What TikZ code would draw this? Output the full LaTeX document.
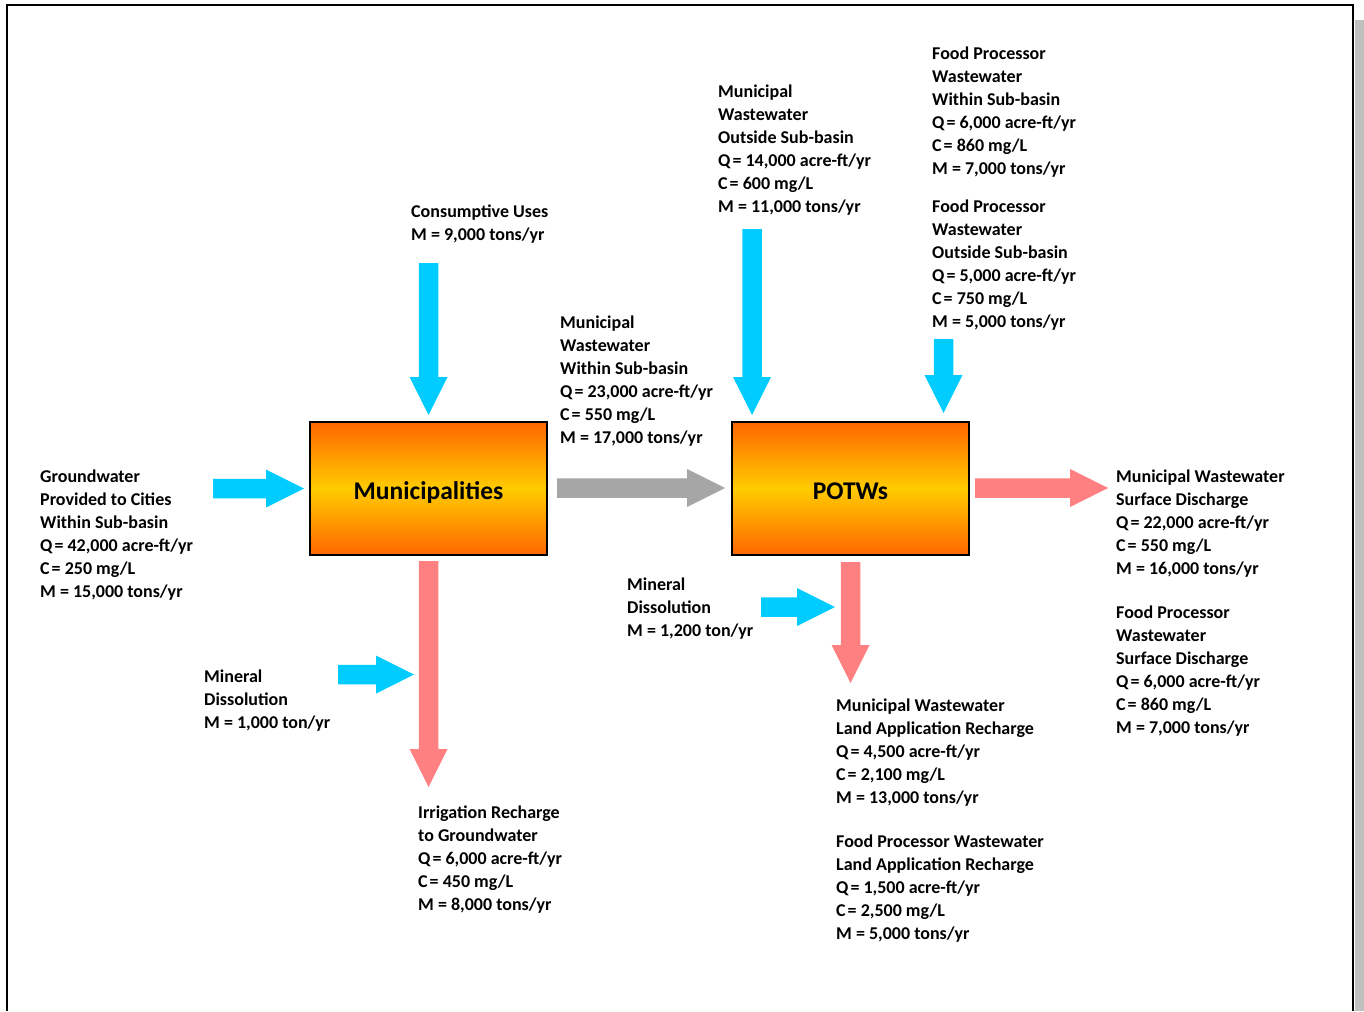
\documentclass[tikz,border=0pt]{standalone}
\usepackage{fontspec}
\setmainfont{Carlito}
\usetikzlibrary{calc}

\definecolor{inflow}{HTML}{00CCFF}
\definecolor{outflow}{HTML}{FF8080}
\definecolor{transfer}{HTML}{A6A6A6}
\definecolor{boxedge}{HTML}{FF6600}
\definecolor{boxmid}{HTML}{FFCC00}
\definecolor{shadowgray}{HTML}{C0C0C0}

% block arrow from tail coordinate #2 to tip coordinate #3, filled with #1
\newcommand\flowarrow[3]{%
  \coordinate (hb) at ($(#3)!38pt!(#2)$);
  \fill[#1] ($(#2)!9.75pt!90:(#3)$) -- ($(hb)!9.75pt!90:(#3)$) --
    ($(hb)!19pt!90:(#3)$) -- (#3) -- ($(hb)!19pt!-90:(#3)$) --
    ($(hb)!9.75pt!-90:(#3)$) -- ($(#2)!9.75pt!-90:(#3)$) -- cycle;
}

\tikzset{
  label/.style={anchor=north west, inner sep=0pt, align=left,
    font=\bfseries\fontsize{18}{23}\selectfont},
  sector/.style={draw=black, line width=2.4pt, minimum width=237pt,
    minimum height=133pt, inner sep=0pt, text height=21pt, text depth=0pt,
    top color=boxedge, bottom color=boxedge, middle color=boxmid,
    font=\bfseries\fontsize{25.5}{30}\selectfont},
}

\begin{document}
\begin{tikzpicture}[x=1pt,y=-1pt]
\useasboundingbox (0,0) rectangle (1364,1011);

% page frame and its shadow
\fill[shadowgray] (1355,20) rectangle (1364,1011);
\draw[line width=2pt] (7,1011) -- (7,5) -- (1353,5) -- (1353,1011);

% the two sectors
\node[sector] (muni) at (428.5,488.5) {Municipalities};
\node[sector] (potw) at (850.5,488.5) {POTWs};

% arrow end points
\coordinate (cuT) at (428.5,263);  \coordinate (cuH) at (428.5,415);
\coordinate (gwT) at (213,488.5);  \coordinate (gwH) at (304,488.5);
\coordinate (mwT) at (557,488);    \coordinate (mwH) at (725,488);
\coordinate (moT) at (752,229);    \coordinate (moH) at (752,415);
\coordinate (foT) at (943.5,339);  \coordinate (foH) at (943.5,413);
\coordinate (sdT) at (975,488);    \coordinate (sdH) at (1108,488);
\coordinate (irT) at (428.5,561);  \coordinate (irH) at (428.5,787);
\coordinate (m1T) at (338,674.5);  \coordinate (m1H) at (414,674.5);
\coordinate (m2T) at (761,607);    \coordinate (m2H) at (835,607);
\coordinate (laT) at (850.5,562);  \coordinate (laH) at (850.5,683);

\flowarrow{inflow}{cuT}{cuH}
\flowarrow{inflow}{gwT}{gwH}
\flowarrow{transfer}{mwT}{mwH}
\flowarrow{inflow}{moT}{moH}
\flowarrow{inflow}{foT}{foH}
\flowarrow{outflow}{sdT}{sdH}
\flowarrow{outflow}{irT}{irH}
\flowarrow{inflow}{m1T}{m1H}
\flowarrow{inflow}{m2T}{m2H}
\flowarrow{outflow}{laT}{laH}

% flow labels
\node[label] (cu) at (411,201) {\strut Consumptive Uses\\M = 9,000 tons/yr};
\node[label] (mo) at (718,81) {\strut Municipal\\Wastewater\\Outside Sub-basin\\Q\kern2pt= 14,000 acre-ft/yr\\C\kern2pt= 600 mg/L\\M = 11,000 tons/yr};
\node[label] (fw) at (932,43) {\strut Food Processor\\Wastewater\\Within Sub-basin\\Q\kern2pt= 6,000 acre-ft/yr\\C\kern2pt= 860 mg/L\\M = 7,000 tons/yr};
\node[label] (fo) at (932,196) {\strut Food Processor\\Wastewater\\Outside Sub-basin\\Q\kern2pt= 5,000 acre-ft/yr\\C\kern2pt= 750 mg/L\\M = 5,000 tons/yr};
\node[label] (mw) at (560,312) {\strut Municipal\\Wastewater\\Within Sub-basin\\Q\kern2pt= 23,000 acre-ft/yr\\C\kern2pt= 550 mg/L\\M = 17,000 tons/yr};
\node[label] (gw) at (40,466) {\strut Groundwater\\Provided to Cities\\Within Sub-basin\\Q\kern2pt= 42,000 acre-ft/yr\\C\kern2pt= 250 mg/L\\M = 15,000 tons/yr};
\node[label] (sd) at (1116,466) {\strut Municipal Wastewater\\Surface Discharge\\Q\kern2pt= 22,000 acre-ft/yr\\C\kern2pt= 550 mg/L\\M = 16,000 tons/yr};
\node[label] (fs) at (1116,602) {\strut Food Processor\\Wastewater\\Surface Discharge\\Q\kern2pt= 6,000 acre-ft/yr\\C\kern2pt= 860 mg/L\\M = 7,000 tons/yr};
\node[label] (m1) at (204,666) {\strut Mineral\\Dissolution\\M = 1,000 ton/yr};
\node[label] (m2) at (627,574) {\strut Mineral\\Dissolution\\M = 1,200 ton/yr};
\node[label] (la) at (836,695) {\strut Municipal Wastewater\\Land Application Recharge\\Q\kern2pt= 4,500 acre-ft/yr\\C\kern2pt= 2,100 mg/L\\M = 13,000 tons/yr};
\node[label] (fl) at (836,831) {\strut Food Processor Wastewater\\Land Application Recharge\\Q\kern2pt= 1,500 acre-ft/yr\\C\kern2pt= 2,500 mg/L\\M = 5,000 tons/yr};
\node[label] (ir) at (418,802) {\strut Irrigation Recharge\\to Groundwater\\Q\kern2pt= 6,000 acre-ft/yr\\C\kern2pt= 450 mg/L\\M = 8,000 tons/yr};
\end{tikzpicture}
\end{document}
